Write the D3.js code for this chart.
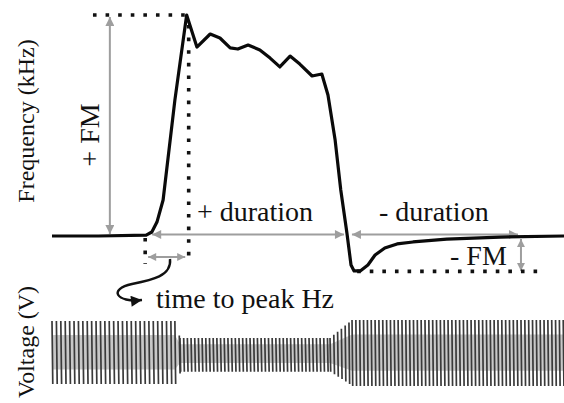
<!DOCTYPE html>
<html>
<head>
<meta charset="utf-8">
<script src="https://cdn.jsdelivr.net/npm/d3@7"></script>
<style>
  body { margin: 0; background: #fff; }
  text { font-family: "Liberation Serif", "Times New Roman", serif; fill: #111; }
</style>
</head>
<body>
<div id="chart"></div>
<script>
// frequency trace (time in arbitrary units 0-100, frequency relative to baseline, peak = 100)
const freqTime = [0, 9, 18.4, 19.5, 20.5, 21.7, 24.0, 26.3, 28.3, 30.9, 32.8, 34.8, 36.3, 38.3, 40.6,
                  42.6, 44.5, 46.5, 48.4, 50.8, 52.7, 53.9, 55.3, 56.4, 57.6, 58.4, 59.0, 60.2, 61.7,
                  63.1, 65.0, 67.4, 70.5, 77.1, 87.5, 100];
const freqVal  = [0, 0, 0.4, 1.8, 6.3, 16.3, 61.5, 100, 85.5, 91.4, 89.6, 85.1, 84.6, 86.4, 84.2,
                  80.5, 76.5, 81.4, 77.8, 72.4, 73.3, 63.8, 43.4, 20.8, 1.4, -13.1, -15.8, -15.8, -13.1,
                  -8.6, -5.4, -3.6, -2.7, -1.4, -0.5, 0];

// key times / values used by the annotations
const onsetT = 18.2, peakT = 26.6, offsetT = 57.8, endT = 91.4;
const peakF = 100, minF = -15.8;

// voltage envelope (same time axis) and carrier period per segment (time units)
const voltTime   = [0, 24.0, 25.0, 54.3, 58.6, 100];
const voltTop    = [0.97, 0.97, 0.44, 0.44, 1.0, 1.0];
const voltBottom = [-1.0, -1.0, -0.62, -0.62, -1.06, -1.06];
const voltPeriod = [0.86, 0.86, 0.72, 0.74, 0.75];

const W = 564, H = 403;
const svg = d3.select("#chart").append("svg")
    .attr("width", W)
    .attr("height", H);

const x = d3.scaleLinear().domain([0, 100]).range([52, 564]);
const y = d3.scaleLinear().domain([0, 100]).range([236, 15]);
const yv = d3.scaleLinear().domain([-1, 1]).range([384, 320]);

const gray = "#9e9e9e";

// arrowhead markers
const defs = svg.append("defs");
function marker(id, color, len, wid) {
    defs.append("marker")
        .attr("id", id)
        .attr("viewBox", "0 0 10 10")
        .attr("refX", 10).attr("refY", 5)
        .attr("markerUnits", "userSpaceOnUse")
        .attr("markerWidth", len).attr("markerHeight", wid)
        .attr("orient", "auto-start-reverse")
      .append("path")
        .attr("d", "M0,0 L10,5 L0,10 Z")
        .attr("fill", color);
}
marker("ga", gray, 11, 9);
marker("gs", gray, 9, 8);
marker("ba", "#111", 12, 11);

function arrow(x1, y1, x2, y2, m) {
    svg.append("line")
        .attr("x1", x1).attr("y1", y1).attr("x2", x2).attr("y2", y2)
        .attr("stroke", gray).attr("stroke-width", 2)
        .attr("marker-start", "url(#" + m + ")")
        .attr("marker-end", "url(#" + m + ")");
}

function dotted(x1, y1, x2, y2) {
    svg.append("line")
        .attr("x1", x1).attr("y1", y1).attr("x2", x2).attr("y2", y2)
        .attr("stroke", "#111").attr("stroke-width", 3.6)
        .attr("stroke-dasharray", "3.6 9");
}

// gray measurement arrows
arrow(x(11.3), y(peakF) + 2, x(11.3), y(0) - 2, "ga");               // + FM
arrow(x(onsetT) + 7, y(0) - 1.5, x(offsetT) - 4, y(0) - 1.5, "ga");  // + duration
arrow(x(offsetT) + 4, y(0) - 1.5, x(endT) - 2, y(0) - 1.5, "ga");    // - duration
arrow(x(endT) + 1, y(0) + 3, x(endT) + 1, y(minF), "gs");            // - FM
arrow(x(onsetT) + 3, 257, x(peakT) - 3, 257, "gs");                  // time to peak

// dotted guide lines
dotted(x(8), y(peakF), x(peakT), y(peakF));
dotted(x(peakT) + 0.5, y(peakF) + 10, x(peakT) + 0.5, 262);
dotted(x(onsetT), y(0) + 2, x(onsetT), 264);
dotted(x(59.6), y(minF) + 0.5, x(96), y(minF) + 0.5);

// frequency trace
const line = d3.line()
    .x(function(d, i) { return x(freqTime[i]); })
    .y(function(d) { return y(d); });

svg.append("path")
    .attr("d", line(freqVal))
    .attr("fill", "none")
    .attr("stroke", "#0a0a0a")
    .attr("stroke-width", 3.2)
    .attr("stroke-linejoin", "round");

// curved arrow to "time to peak Hz"
svg.append("path")
    .attr("d", "M170,259 C172,276 152,280 132,284 C108,289 116,303 142,300")
    .attr("fill", "none")
    .attr("stroke", "#111")
    .attr("stroke-width", 2.4)
    .attr("marker-end", "url(#ba)");

// voltage trace: faint envelope plus one stroke per carrier cycle
const topAt = d3.scaleLinear().domain(voltTime).range(voltTop);
const botAt = d3.scaleLinear().domain(voltTime).range(voltBottom);

const area = d3.area()
    .x(function(d) { return x(d); })
    .y0(function(d) { return yv(botAt(d) * 0.55); })
    .y1(function(d) { return yv(topAt(d) * 0.55); });

svg.append("path")
    .attr("d", area(voltTime))
    .attr("fill", "#c8c8c8");

svg.append("path")
    .attr("d", function() {
        let p = "";
        for (let k = 0; k < voltPeriod.length; k++) {
            for (let t = voltTime[k]; t < voltTime[k + 1]; t += voltPeriod[k]) {
                p += "M" + x(t).toFixed(2) + "," + yv(topAt(t)).toFixed(2) +
                     "L" + x(t + voltPeriod[k] * 0.18).toFixed(2) + "," + yv(botAt(t)).toFixed(2);
            }
        }
        return p;
    })
    .attr("fill", "none")
    .attr("stroke", "#3a3a3a")
    .attr("stroke-width", 1.7);

// texts
svg.append("text")
    .attr("transform", "translate(34,121) rotate(-90)")
    .attr("text-anchor", "middle")
    .style("font-size", "24px")
    .text("Frequency (kHz)");

svg.append("text")
    .attr("transform", "translate(34,342) rotate(-90)")
    .attr("text-anchor", "middle")
    .style("font-size", "24px")
    .text("Voltage (V)");

svg.append("text")
    .attr("transform", "translate(99,135) rotate(-90)")
    .attr("text-anchor", "middle")
    .style("font-size", "28px")
    .text("+ FM");

svg.append("text")
    .attr("x", 197).attr("y", 221)
    .style("font-size", "28px")
    .text("+ duration");

svg.append("text")
    .attr("x", 379).attr("y", 221)
    .style("font-size", "28px")
    .text("- duration");

svg.append("text")
    .attr("x", 450).attr("y", 265)
    .style("font-size", "28px")
    .text("- FM");

svg.append("text")
    .attr("x", 156).attr("y", 308)
    .style("font-size", "28px")
    .text("time to peak Hz");
</script>
</body>
</html>
